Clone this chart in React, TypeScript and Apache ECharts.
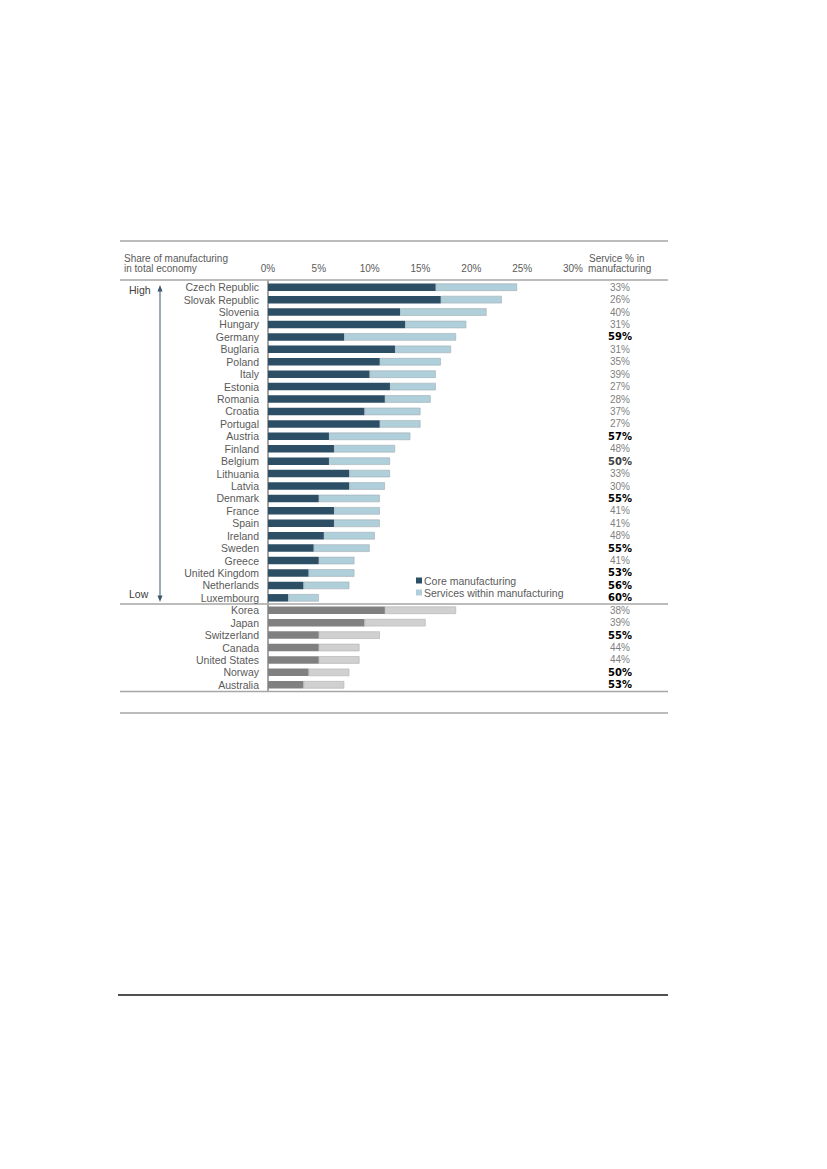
import React, { useEffect, useRef } from "react";
import * as echarts from "echarts";

const countries = [
  "Czech Republic", "Slovak Republic", "Slovenia", "Hungary", "Germany", "Buglaria", "Poland", "Italy", "Estonia",
  "Romania", "Croatia", "Portugal", "Austria", "Finland", "Belgium", "Lithuania", "Latvia", "Denmark", "France",
  "Spain", "Ireland", "Sweden", "Greece", "United Kingdom", "Netherlands", "Luxembourg",
  "Korea", "Japan", "Switzerland", "Canada", "United States", "Norway", "Australia",
];
const coreManufacturing = [
  16.5, 17.0, 13.0, 13.5, 7.5, 12.5, 11.0, 10.0, 12.0, 11.5, 9.5, 11.0, 6.0, 6.5, 6.0, 8.0, 8.0, 5.0, 6.5, 6.5, 5.5,
  4.5, 5.0, 4.0, 3.5, 2.0, 11.5, 9.5, 5.0, 5.0, 5.0, 4.0, 3.5,
];
const servicesWithin = [
  8.0, 6.0, 8.5, 6.0, 11.0, 5.5, 6.0, 6.5, 4.5, 4.5, 5.5, 4.0, 8.0, 6.0, 6.0, 4.0, 3.5, 6.0, 4.5, 4.5, 5.0, 5.5, 3.5,
  4.5, 4.5, 3.0, 7.0, 6.0, 6.0, 4.0, 4.0, 4.0, 4.0,
];
const servicePctLabels = [
  "33%", "26%", "40%", "31%", "59%", "31%", "35%", "39%", "27%", "28%", "37%", "27%", "57%", "48%", "50%", "33%",
  "30%", "55%", "41%", "41%", "48%", "55%", "41%", "53%", "56%", "60%", "38%", "39%", "55%", "44%", "44%", "50%", "53%",
];
// n = normal, b = bold black, g = bold grey
const servicePctStyle = [
  "n", "n", "n", "n", "b", "n", "n", "n", "n", "n", "n", "n", "b", "n", "g", "n", "n", "b", "n", "n", "n", "b", "n",
  "b", "b", "b", "n", "n", "b", "n", "n", "b", "b",
];
const nonEuStart = 26;
const xTicks = [0, 5, 10, 15, 20, 25, 30];

const FONT = "Liberation Sans, Arial, sans-serif";
const DARK = "#2c4f66";
const LIGHT = "#afcfdb";
const GREY_DARK = "#808080";
const GREY_LIGHT = "#d0d0d0";
const TEXT = "#5a5a5a";

export default function App() {
  const ref = useRef<HTMLDivElement>(null);
  useEffect(() => {
    const chart = echarts.init(ref.current!, null, { renderer: "svg" });
    const hline = (y: number, color: string, w: number, x1 = 120, x2 = 668) => ({
      type: "line",
      shape: { x1, y1: y, x2, y2: y },
      style: { stroke: color, lineWidth: w },
      silent: true,
    });
    const txt = (text: string, x: number, y: number, extra: any = {}) => ({
      type: "text",
      x,
      y,
      style: {
        text,
        fill: TEXT,
        font: `10px ${FONT}`,
        textVerticalAlign: "middle",
        ...extra,
      },
    });
    const option: any = {
      animation: false,
      backgroundColor: "#ffffff",
      grid: { left: 268, right: 254, top: 281, height: 410, containLabel: false },
      legend: {
        orient: "vertical",
        left: 411,
        top: 570,
        itemWidth: 6,
        itemHeight: 6,
        itemGap: 1,
        icon: "rect",
        itemStyle: { borderWidth: 0 },
        textStyle: { color: TEXT, fontSize: 10.5, fontFamily: FONT, padding: [0, 0, 0, -3] },
        data: ["Core manufacturing", "Services within manufacturing"],
      },
      xAxis: {
        type: "value",
        position: "top",
        min: 0,
        max: 30,
        interval: 5,
        axisLine: { show: false },
        axisTick: { show: false },
        splitLine: { show: false },
        axisLabel: {
          margin: 8,
          color: TEXT,
          fontSize: 10,
          fontFamily: FONT,
          formatter: (v: number) => (xTicks.includes(v) ? `${v}%` : ""),
        },
      },
      yAxis: [
        {
          type: "category",
          inverse: true,
          data: countries,
          axisLine: { show: true, lineStyle: { color: "#a6a6a6", width: 2 } },
          axisTick: { show: false },
          axisLabel: { interval: 0, margin: 9, color: TEXT, fontSize: 10.5, fontFamily: FONT },
        },
        {
          type: "category",
          inverse: true,
          position: "right",
          data: countries,
          axisLine: { show: false },
          axisTick: { show: false },
          axisLabel: {
            interval: 0,
            margin: 47,
            align: "center",
            formatter: (_v: string, i: number) => `{${servicePctStyle[i]}|${servicePctLabels[i]}}`,
            rich: {
              n: { color: "#7f7f7f", fontSize: 10, fontFamily: FONT },
              b: { color: "#000000", fontSize: 10, fontWeight: "bold", fontFamily: "DejaVu Sans, sans-serif" },
              g: { color: "#404040", fontSize: 10, fontWeight: "bold", fontFamily: "DejaVu Sans, sans-serif" },
            },
          },
        },
      ],
      series: [
        {
          name: "Core manufacturing",
          type: "bar",
          stack: "total",
          barWidth: 7.5,
          itemStyle: { color: DARK },
          data: coreManufacturing.map((v, i) =>
            i >= nonEuStart ? { value: v, itemStyle: { color: GREY_DARK } } : v
          ),
        },
        {
          name: "Services within manufacturing",
          type: "bar",
          stack: "total",
          barWidth: 7.5,
          itemStyle: { color: LIGHT, borderColor: "#a3adb2", borderWidth: 0.6 },
          data: servicesWithin.map((v, i) =>
            i >= nonEuStart ? { value: v, itemStyle: { color: GREY_LIGHT, borderColor: "#b0b0b0" } } : v
          ),
        },
      ],
      graphic: [
        hline(241, "#a6a6a6", 1.5),
        hline(280, "#a6a6a6", 1.5),
        hline(604, "#a6a6a6", 1.5),
        hline(691.5, "#a6a6a6", 1.5),
        hline(713, "#a6a6a6", 1.5),
        hline(995, "#505050", 2, 118, 668),
        txt("Share of manufacturing", 124, 258),
        txt("in total economy", 124, 268),
        txt("Service % in", 589, 258),
        txt("manufacturing", 588, 268),
        txt("High", 129, 290, { fill: "#404040", font: `10.5px ${FONT}` }),
        txt("Low", 129, 594, { fill: "#404040", font: `10.5px ${FONT}` }),
        {
          type: "line",
          shape: { x1: 160, y1: 290, x2: 160, y2: 598 },
          style: { stroke: "#3c566b", lineWidth: 1 },
        },
        {
          type: "polygon",
          shape: { points: [[160, 285], [157.5, 291.5], [162.5, 291.5]] },
          style: { fill: "#3c566b" },
        },
        {
          type: "polygon",
          shape: { points: [[160, 602], [157.5, 595.5], [162.5, 595.5]] },
          style: { fill: "#3c566b" },
        },
      ],
    };
    chart.setOption(option);
    return () => chart.dispose();
  }, []);
  return (
    <div
      ref={ref}
      style={{ position: "absolute", left: 0, top: 0, width: 827, height: 1169, background: "#fff" }}
    />
  );
}
